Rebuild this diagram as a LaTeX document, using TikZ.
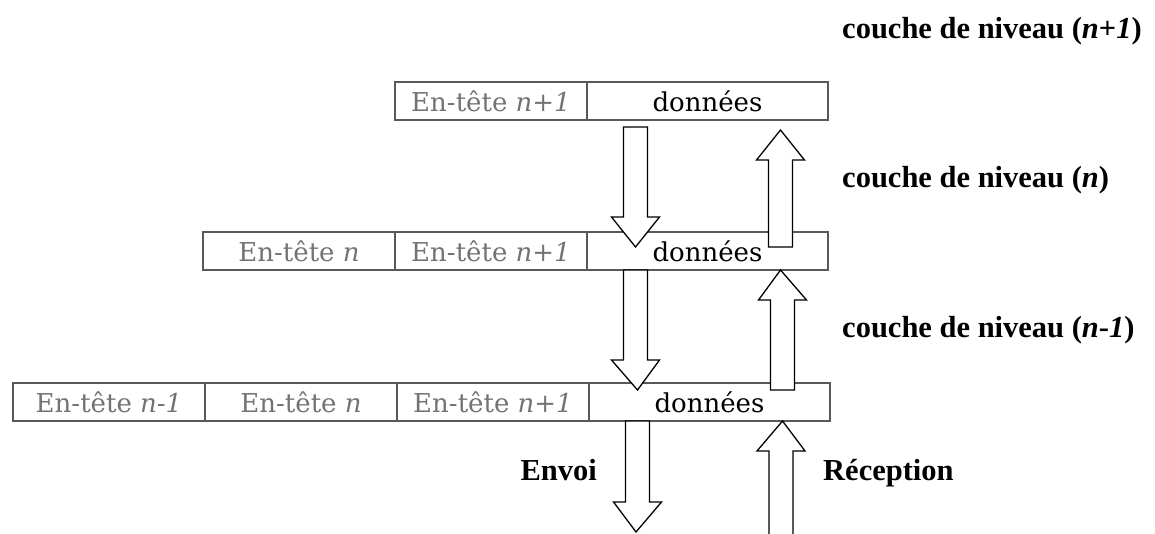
\documentclass[tikz,border=0pt]{standalone}
\usepackage{fontspec}
\setmainfont{DejaVu Serif}
\newfontfamily\labelfont{Liberation Serif}
\usetikzlibrary{calc}

\definecolor{framecol}{gray}{0.35}
\definecolor{headcol}{gray}{0.45}

\tikzset{
  cell/.style={draw=framecol, line width=1.1pt, minimum height=38pt,
    inner sep=0pt, outer sep=0pt, anchor=north west,
    font=\fontsize{26}{30}\selectfont},
  headcell/.style={cell, minimum width=192pt, text=headcol},
  datacell/.style={cell, minimum width=241pt, text=black},
  lbl/.style={font=\labelfont\fontsize{30.5}{34}\selectfont\bfseries,
    inner sep=0pt, text=black},
  blk/.style={draw=black, fill=white, line width=1.3pt, line join=miter},
}

% vertical block arrow from #1 (tail) to #2 (tip)
\newcommand\blockarrow[2]{%
  \filldraw[blk] let \p1=(#1), \p2=(#2), \n1={sign(\y2-\y1)*30pt} in
    (\x1-12pt,\y1) -- (\x1-12pt,\y2-\n1) -- (\x1-24pt,\y2-\n1) -- (\x2,\y2)
    -- (\x1+24pt,\y2-\n1) -- (\x1+12pt,\y2-\n1) -- (\x1+12pt,\y1) -- cycle;}

\begin{document}
\begin{tikzpicture}[x=1pt, y=-1pt]
\useasboundingbox (0,0) rectangle (1155,533);

% level n+1 packet
\node[headcell] (r1a) at (395,82) {En-tête \textit{n}+\textit{1}};
\node[datacell] (r1d) at (r1a.north east) {données};

% level n packet
\node[headcell] (r2a) at (203,232) {En-tête \textit{n}};
\node[headcell] (r2b) at (r2a.north east) {En-tête \textit{n}+\textit{1}};
\node[datacell] (r2d) at (r2b.north east) {données};

% level n-1 packet
\node[headcell] (r3a) at (13,383) {En-tête \textit{n}-\textit{1}};
\node[headcell] (r3b) at (r3a.north east) {En-tête \textit{n}};
\node[headcell] (r3c) at (r3b.north east) {En-tête \textit{n}+\textit{1}};
\node[datacell] (r3d) at (r3c.north east) {données};

% layer labels
\node[lbl, anchor=base west] (l1) at (842,38) {couche de niveau (\textit{n}+\textit{1})};
\node[lbl, anchor=base west] (l2) at (842,187) {couche de niveau (\textit{n})};
\node[lbl, anchor=base west] (l3) at (842,337) {couche de niveau (\textit{n}-\textit{1})};
\node[lbl, anchor=base east] (env) at (597,480) {Envoi};
\node[lbl, anchor=base west] (rec) at (823,480) {Réception};

% arrow ends
\coordinate (d1s) at ($(r1d.south)+(-72,7)$);
\coordinate (d1t) at ($(r2d.north)+(-72,15)$);
\coordinate (u1s) at ($(r2d.north)+(73,15)$);
\coordinate (u1t) at ($(r1d.south)+(73,10)$);
\coordinate (d2s) at ($(r2d.south)+(-72,0)$);
\coordinate (d2t) at ($(r3d.north)+(-72,7)$);
\coordinate (u2s) at ($(r3d.north)+(73,7)$);
\coordinate (u2t) at ($(r2d.south)+(73,0)$);
\coordinate (d3s) at ($(r3d.south)+(-72,0)$);
\coordinate (d3t) at (636,532);
\coordinate (u3s) at (781,545);
\coordinate (u3t) at ($(r3d.south)+(73,0)$);

\blockarrow{d1s}{d1t}
\blockarrow{u1s}{u1t}
\blockarrow{d2s}{d2t}
\blockarrow{u2s}{u2t}
\blockarrow{d3s}{d3t}
\blockarrow{u3s}{u3t}
\end{tikzpicture}
\end{document}
